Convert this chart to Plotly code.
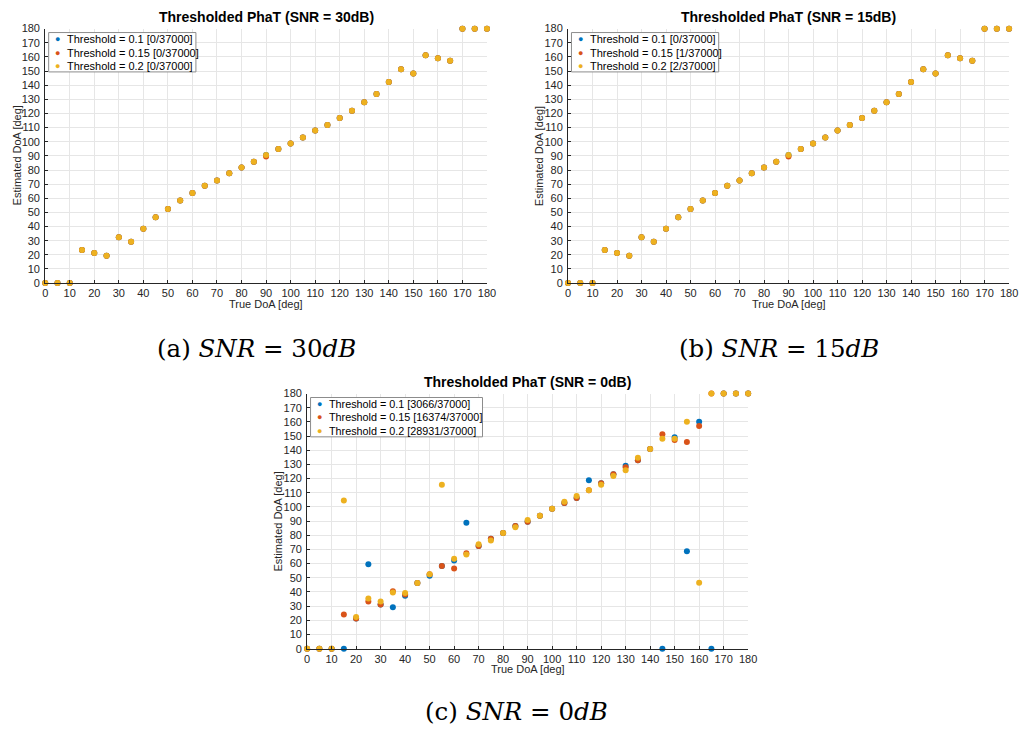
import plotly.graph_objects as go

# ---------------- data ----------------
true_doa = list(range(0, 181, 5))

# SNR = 30 dB
est30_t010 = [0, 0, 0, 23.4, 21.3, 19.3, 32.5, 29.2, 38.5, 46.6, 52.4, 58.5, 63.8, 68.9, 72.6, 77.7,
              81.7, 85.8, 90.7, 94.9, 98.8, 103.0, 107.9, 111.8, 116.7, 122.0, 128.0, 133.8, 142.2,
              151.2, 148.2, 161.2, 159.1, 157.3, 180, 180, 180]
est30_t015 = [0, 0, 0, 23.4, 21.3, 19.3, 32.5, 29.2, 38.5, 46.6, 52.4, 58.5, 63.8, 68.9, 72.6, 77.7,
              81.7, 85.8, 89.6, 94.9, 98.8, 103.0, 107.9, 111.8, 116.7, 122.0, 128.0, 133.8, 142.2,
              151.2, 148.2, 161.2, 159.1, 157.3, 180, 180, 180]
est30_t020 = [0, 0, 0, 23.4, 21.3, 19.3, 32.5, 29.2, 38.5, 46.6, 52.4, 58.5, 63.8, 68.9, 72.6, 77.7,
              81.7, 85.8, 90.7, 94.9, 98.8, 103.0, 107.9, 111.8, 116.7, 122.0, 128.0, 133.8, 142.2,
              151.2, 148.2, 161.2, 159.1, 157.3, 180, 180, 180]

# SNR = 15 dB
est15_t010 = list(est30_t010)
est15_t015 = list(est30_t015)
est15_t020 = list(est30_t020)

# SNR = 0 dB
est0_t010 = [0, 0, 0, 0, 21.3, 59.5, 31.2, 29.2, 37.3, 46.3, 51.4, 58.3, 62.2, 88.8, 72.4, 77.5,
             81.7, 86.5, 89.5, 93.7, 98.8, 102.7, 106.4, 118.9, 116.8, 123.1, 129.1, 133.0, 140.9,
             0, 149.2, 68.7, 160.1, 0, 180, 180, 180]
est0_t015 = [0, 0, 0, 24.1, 21.3, 33.3, 31.2, 40.5, 38.2, 46.3, 52.5, 58.3, 56.5, 67.3, 72.4, 77.5,
             81.7, 86.5, 89.5, 93.7, 98.8, 102.7, 106.4, 111.8, 116.8, 123.1, 128.0, 133.0, 140.9,
             151.3, 147.2, 145.8, 157.1, 180, 180, 180, 180]
est0_t020 = [0, 0, 0, 104.6, 22.4, 35.4, 33.3, 39.6, 39.3, 46.3, 52.5, 115.7, 63.4, 66.4, 73.6, 76.4,
             81.7, 85.6, 90.7, 93.7, 98.8, 103.7, 107.8, 111.8, 115.7, 121.9, 125.9, 134.7, 140.9,
             148.1, 148.1, 160.1, 46.5, 180, 180, 180, 180]

legend30 = ["Threshold = 0.1 [0/37000]", "Threshold = 0.15 [0/37000]", "Threshold = 0.2 [0/37000]"]
legend15 = ["Threshold = 0.1 [0/37000]", "Threshold = 0.15 [1/37000]", "Threshold = 0.2 [2/37000]"]
legend0 = ["Threshold = 0.1 [3066/37000]", "Threshold = 0.15 [16374/37000]", "Threshold = 0.2 [28931/37000]"]

titles = ["Thresholded PhaT (SNR = 30dB)", "Thresholded PhaT (SNR = 15dB)", "Thresholded PhaT (SNR = 0dB)"]
captions = ["(a) <i>SNR</i> = 30<i>dB</i>", "(b) <i>SNR</i> = 15<i>dB</i>", "(c) <i>SNR</i> = 0<i>dB</i>"]
tick_vals = list(range(0, 181, 10))

# ---------------- styling ----------------
W, H = 1024, 736
colors = ["#0072BD", "#D95319", "#EDB120"]
AX = "#262626"
GRID = "#E6E6E6"
FONT = "Liberation Sans, Arial, sans-serif"

# pixel boxes of plot areas: (left, right, top, bottom)
boxes = [(42.7, 489.7, 23.0, 281.7), (571.7, 1018.0, 23.0, 281.7), (307.7, 754.0, 394.0, 653.3)]
legend_w = [149, 149, 174]
legend_fs = [11, 11, 10.8]
caption_pos = [(257, 348), (785, 348), (520, 717)]

fig = go.Figure()
series = [
    (est30_t010, est30_t015, est30_t020, legend30),
    (est15_t010, est15_t015, est15_t020, legend15),
    (est0_t010, est0_t015, est0_t020, legend0),
]

layout = dict(width=W, height=H, margin=dict(l=0, r=0, t=0, b=0, pad=0),
              paper_bgcolor="white", plot_bgcolor="white", showlegend=False,
              font=dict(family=FONT, color=AX), annotations=[], shapes=[])


def px(x):
    return x / W


def py(y):
    return 1 - y / H


for i, ((a, b, c, names), (l, r, t, bt)) in enumerate(zip(series, boxes)):
    xa = "x" if i == 0 else f"x{i+1}"
    ya = "y" if i == 0 else f"y{i+1}"
    for vals, col, nm in zip((a, b, c), colors, names):
        fig.add_trace(go.Scatter(x=true_doa, y=vals, mode="markers", name=nm,
                                 marker=dict(color=col, size=6, line=dict(width=0)),
                                 xaxis=xa, yaxis=ya, cliponaxis=False))
    axcommon = dict(range=[0, 180], tickvals=tick_vals, showgrid=True, gridcolor=GRID, gridwidth=1,
                    zeroline=False, showline=True, linecolor=AX, linewidth=1,
                    ticks="inside", ticklen=3, tickcolor=AX, tickfont=dict(size=11, color=AX, family=FONT),
                    fixedrange=True)
    xkey = "xaxis" if i == 0 else f"xaxis{i+1}"
    ykey = "yaxis" if i == 0 else f"yaxis{i+1}"
    layout[xkey] = dict(axcommon, domain=[px(l), px(r)], anchor=ya)
    layout[ykey] = dict(axcommon, domain=[py(bt), py(t)], anchor=xa, ticklabelstandoff=2)
    cx = (l + r) / 2
    layout["annotations"] += [
        dict(text=f"<b>{titles[i]}</b>", x=px(cx), y=py(t - 12), xref="paper", yref="paper",
             showarrow=False, font=dict(size=14, color="black", family=FONT), xanchor="center", yanchor="middle"),
        dict(text="True DoA [deg]", x=px(cx), y=py(bt + 21), xref="paper", yref="paper",
             showarrow=False, font=dict(size=11, color=AX, family=FONT), xanchor="center", yanchor="middle"),
        dict(text="Estimated DoA [deg]", x=px(l - 29), y=py((t + bt) / 2), xref="paper", yref="paper",
             showarrow=False, textangle=-90, font=dict(size=11, color=AX, family=FONT),
             xanchor="center", yanchor="middle"),
        dict(text=captions[i], x=px(caption_pos[i][0]), y=py(caption_pos[i][1]), xref="paper", yref="paper",
             showarrow=False, font=dict(size=24.5, color="black", family="DejaVu Serif, serif"),
             xanchor="center", yanchor="middle"),
    ]
    # legend box (drawn as shapes + annotations so the entries are packed like the original)
    bx0, by0 = l + 3.5, t + 4
    layout["shapes"].append(dict(type="rect", xref="paper", yref="paper", layer="above",
                                 x0=px(bx0), x1=px(bx0 + legend_w[i]), y0=py(by0), y1=py(by0 + 40),
                                 line=dict(color="#8C8C8C", width=1), fillcolor="white"))
    for k, (col, nm) in enumerate(zip(colors, names)):
        yy = by0 + 7 + k * 13.3
        layout["annotations"] += [
            dict(text="●", x=px(bx0 + 8.7), y=py(yy), xref="paper", yref="paper", showarrow=False,
                 font=dict(size=9, color=col, family=FONT), xanchor="center", yanchor="middle"),
            dict(text=nm, x=px(bx0 + 16.5), y=py(yy), xref="paper", yref="paper", showarrow=False,
                 font=dict(size=legend_fs[i], color="black", family=FONT), xanchor="left", yanchor="middle"),
        ]

fig.update_layout(**layout)
fig.write_html("out.html", config={"displayModeBar": False})
